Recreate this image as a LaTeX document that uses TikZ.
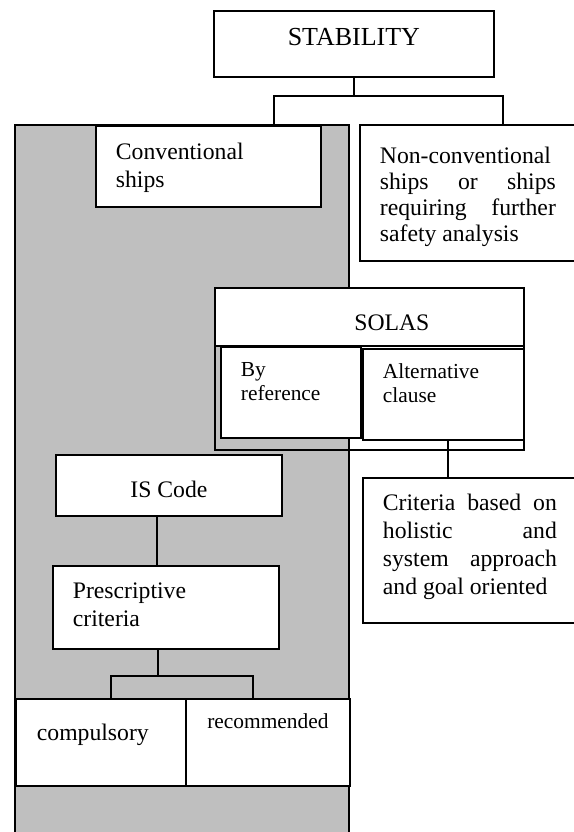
\documentclass[tikz,border=0pt]{standalone}
\usepackage{fontspec}
\setmainfont{Liberation Serif}

\begin{document}
\begin{tikzpicture}[x=0.5pt, y=-0.5pt, line width=0.9pt,
    box/.style={draw, fill=white, anchor=north west, inner ysep=0pt},
    txt/.style={font=\fontsize{11.85}{14}\selectfont},
    small/.style={font=\fontsize{10.7}{12}\selectfont}]
    \useasboundingbox (0,0) rectangle (574,832);
    % Shaded area for conventional ships
    \filldraw[fill=black!25] (15,845) -- (15,125) -- (349,125) -- (349,845);
    % Top of the tree
    \node[box, minimum width=140pt, inner xsep=0pt, text height=17.5pt, text depth=15.5pt, font=\fontsize{13}{15}\selectfont] (stab) at (213,10) {STABILITY};
    \node[box, txt, inner xsep=10pt, text width=92.5pt, align=left, text height=17pt, text depth=23.5pt] (conv) at (95,125) {Conventional\\ships};
    \node[box, inner xsep=10pt, text height=19.5pt, text depth=48.5pt, font=\fontsize{11.85}{12.9}\selectfont] (noncon) at (359,124)
        {\parbox[t]{88pt}{\tolerance=9999\hyphenpenalty=10000 Non-conventional ships or ships requiring further safety analysis}\hspace*{12pt}};
    \coordinate (forkL) at (274,96);
    \coordinate (forkR) at (503,96);
    \draw (stab.south) -- (stab.south |- forkL);
    \draw (conv.north -| forkL) -- (forkL) -- (forkR) -- (noncon.north -| forkR);
    % SOLAS block
    \node[draw, anchor=north west, minimum width=154.5pt, minimum height=81pt, inner sep=0pt] (solasfr) at (214,287) {};
    \node[box, txt, minimum width=154.5pt, inner xsep=0pt, text height=21.5pt, text depth=7.5pt] (solas) at (214,287) {\hspace*{22.5pt}SOLAS};
    \node[box, small, inner xsep=10pt, text width=50pt, align=left, text height=15pt, text depth=30.5pt] (byref) at (220,346) {By\\reference};
    \node[box, small, inner xsep=10pt, text width=60.5pt, align=left, text height=15pt, text depth=30.5pt] (alt) at (362,348) {Alternative\\clause};
    \node[box, txt, inner xsep=10pt, text height=16.5pt, text depth=56pt] (crit) at (362,477)
        {\parbox[t]{87pt}{\tolerance=9999\hyphenpenalty=10000 Criteria based on\linebreak holistic and\linebreak system approach\linebreak and goal oriented}\hspace*{13pt}};
    \draw ([xshift=2.25pt]alt.south) -- ([xshift=2.25pt]alt.south |- crit.north);
    % IS Code branch
    \node[box, txt, minimum width=113pt, inner xsep=0pt, text height=21.5pt, text depth=9pt] (iscode) at (55,454) {IS Code};
    \node[box, txt, inner xsep=10pt, text width=93pt, align=left, text height=16.5pt, text depth=25pt] (presc) at (52,565) {Prescriptive\\criteria};
    \node[box, txt, inner xsep=10.5pt, text width=64pt, align=left, text height=21pt, text depth=22.5pt] (comp) at (15,698) {compulsory};
    \node[box, small, minimum width=82pt, inner xsep=0pt, text height=15pt, text depth=28.5pt] (rec) at (185,698) {recommended};
    \draw[line width=1.2pt] ([xshift=-6pt]iscode.south) -- ([xshift=-6pt]iscode.south |- presc.north);
    \coordinate (forkA) at (111,676);
    \coordinate (forkB) at (253,676);
    \draw ([xshift=-4pt]presc.south) -- ([xshift=-4pt]presc.south |- forkA);
    \draw (comp.north -| forkA) -- (forkA) -- (forkB) -- (rec.north -| forkB);
\end{tikzpicture}
\end{document}
